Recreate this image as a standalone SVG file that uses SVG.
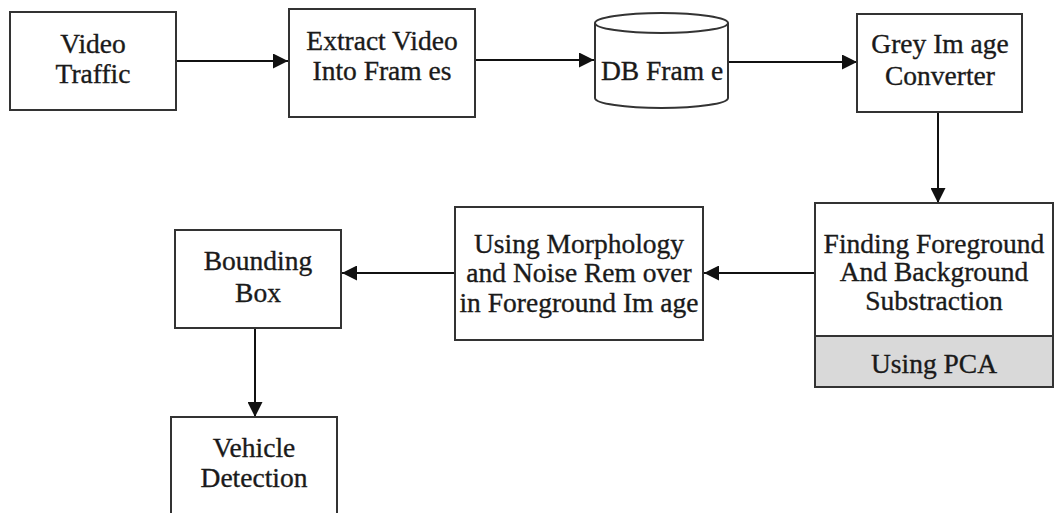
<svg xmlns="http://www.w3.org/2000/svg" width="1054" height="513" viewBox="0 0 1054 513">
<style>
.box{fill:#fff;stroke:#333;stroke-width:2}
.grey{fill:#d9d9d9;stroke:#333;stroke-width:2}
.t{font-family:"Liberation Serif","Times New Roman",serif;font-size:27.5px;fill:#1a1a1a;stroke:#1a1a1a;stroke-width:0.35;text-anchor:middle}
.c{stroke:#111;stroke-width:2;fill:none}
</style>
<defs>
<marker id="ah" viewBox="0 0 10 10" refX="10" refY="5" markerWidth="15" markerHeight="15" markerUnits="userSpaceOnUse" orient="auto">
<path d="M0,0 L10,5 L0,10 Z" fill="#111"/>
</marker>
</defs>
<rect width="1054" height="513" fill="#fff"/>
<g id="connectors">
<line class="c" x1="176" y1="61" x2="288" y2="61" marker-end="url(#ah)"/>
<line class="c" x1="475" y1="60" x2="594" y2="60" marker-end="url(#ah)"/>
<line class="c" x1="728" y1="62" x2="857" y2="62" marker-end="url(#ah)"/>
<line class="c" x1="938" y1="112" x2="938" y2="203" marker-end="url(#ah)"/>
<line class="c" x1="815" y1="273" x2="704" y2="273" marker-end="url(#ah)"/>
<line class="c" x1="455" y1="273" x2="342" y2="273" marker-end="url(#ah)"/>
<line class="c" x1="255" y1="328" x2="255" y2="417" marker-end="url(#ah)"/>
</g>
<g id="video-traffic">
<rect class="box" x="10" y="12" width="166" height="98"/>
<text class="t" x="93" y="53">Video</text>
<text class="t" x="93" y="83">Traffic</text>
</g>
<g id="extract-video">
<rect class="box" x="289" y="9" width="186" height="108"/>
<text class="t" x="382" y="50">Extract Video</text>
<text class="t" x="382" y="80">Into Fram es</text>
</g>
<g id="db-frame">
<path class="box" d="M595,23 L595,98 A66.5,10 0 0 0 728,98 L728,23"/>
<ellipse class="box" cx="661.5" cy="23" rx="66.5" ry="10"/>
<text class="t" x="662" y="80">DB Fram e</text>
</g>
<g id="grey-image-converter">
<rect class="box" x="857" y="14" width="165" height="98"/>
<text class="t" x="940" y="53">Grey Im age</text>
<text class="t" x="940" y="85">Converter</text>
</g>
<g id="finding-foreground">
<rect class="box" x="815" y="203" width="238" height="133"/>
<rect class="grey" x="815" y="336" width="238" height="51"/>
<text class="t" x="934" y="253">Finding Foreground</text>
<text class="t" x="934" y="281">And Background</text>
<text class="t" x="934" y="310">Substraction</text>
<text class="t" x="934" y="373">Using PCA</text>
</g>
<g id="morphology">
<rect class="box" x="455" y="207" width="248" height="133"/>
<text class="t" x="579" y="253">Using Morphology</text>
<text class="t" x="579" y="282">and Noise Rem over</text>
<text class="t" x="579" y="312">in Foreground Im age</text>
</g>
<g id="bounding-box">
<rect class="box" x="175" y="230" width="166" height="98"/>
<text class="t" x="258" y="270">Bounding</text>
<text class="t" x="258" y="302">Box</text>
</g>
<g id="vehicle-detection">
<rect class="box" x="171" y="417" width="166" height="110"/>
<text class="t" x="254" y="457">Vehicle</text>
<text class="t" x="254" y="487">Detection</text>
</g>
</svg>
